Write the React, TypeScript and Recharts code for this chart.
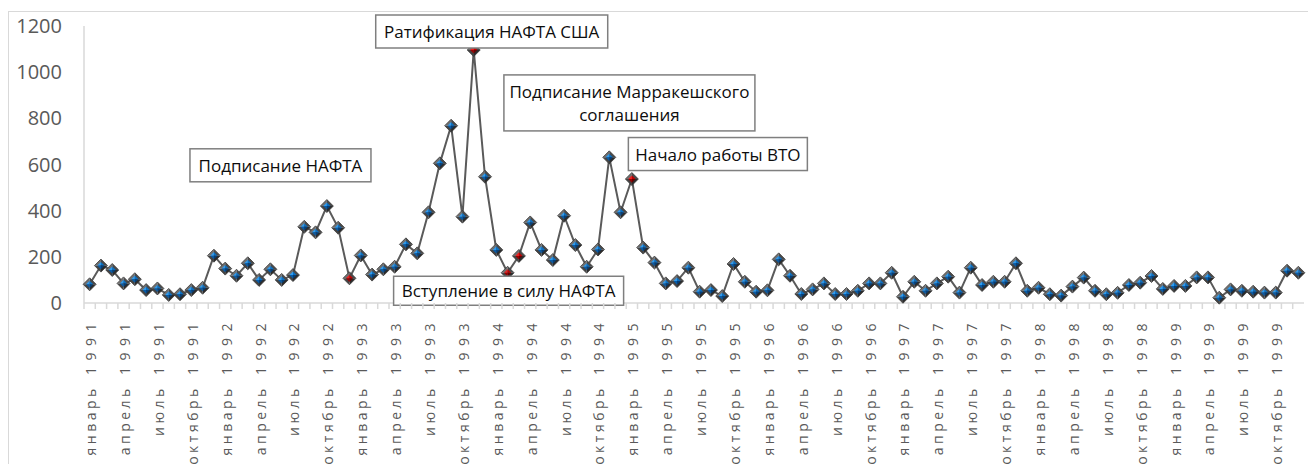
import React from 'react';
import { LineChart, Line, XAxis, YAxis, ReferenceDot } from 'recharts';

const MONTHS = ['январь', 'февраль', 'март', 'апрель', 'май', 'июнь', 'июль', 'август', 'сентябрь', 'октябрь', 'ноябрь', 'декабрь'];
const YEARS = [1991, 1992, 1993, 1994, 1995, 1996, 1997, 1998, 1999];
const VALUES = [
  81, 162, 143, 85, 103, 56, 63, 35, 38, 56, 66, 205,
  149, 118, 172, 100, 146, 100, 121, 330, 306, 420, 326, 107,
  206, 123, 146, 157, 254, 215, 393, 605, 768, 374, 1096, 547,
  230, 131, 204, 349, 230, 186, 378, 251, 157, 232, 631, 393,
  537, 240, 175, 85, 95, 153, 49, 56, 30, 169, 92, 49,
  55, 189, 118, 39, 59, 85, 39, 39, 53, 85, 85, 131,
  27, 92, 53, 85, 114, 45, 153, 78, 92, 92, 172, 53,
  66, 38, 32, 71, 110, 53, 38, 44, 78, 88, 117, 61,
  74, 74, 111, 111, 23, 59, 53, 49, 45, 45, 140, 131,
];
const TICK_MONTHS = ['январь', 'апрель', 'июль', 'октябрь'];
const Y_TICKS = [0, 200, 400, 600, 800, 1000, 1200];
const HIGHLIGHTED = ['декабрь 1992', 'ноябрь 1993', 'февраль 1994', 'март 1994', 'январь 1995'];
const ANNOTATION_AT = ['декабрь 1992', 'ноябрь 1993', 'март 1994', 'январь 1995', 'февраль 1994'];
const ANNOTATION_TEXT = [
  ['Подписание НАФТА'],
  ['Ратификация НАФТА США'],
  ['Подписание Марракешского', 'соглашения'],
  ['Начало работы ВТО'],
  ['Вступление в силу НАФТА'],
];

// layout
const ANNOTATION_LAYOUT = [
  { dx: -69, dy: -113, w: 181, h: 33 },
  { dx: 18, dy: -18.5, w: 232, h: 33 },
  { dx: 110.5, dy: -153, w: 251, h: 56 },
  { dx: 86, dy: -25, w: 179, h: 33 },
  { dx: 1, dy: 18, w: 230, h: 29 },
];
const CHART_W = 1298;
const CHART_H = 452;
const Y_AXIS_W = 75;
const MARGIN = { top: 14, right: 3, left: 0, bottom: 0 };
const PLOT_W = CHART_W - Y_AXIS_W - MARGIN.right - MARGIN.left;
const N = MONTHS.length * YEARS.length;
const STEP = PLOT_W / N;

const data = YEARS.flatMap((y, yi) =>
  MONTHS.map((m, mi) => ({ label: `${m} ${y}`, value: VALUES[yi * 12 + mi] }))
);
const valueOf = (label: string) => data.find((d) => d.label === label)!.value;

const XTick = (props: any) => {
  const { x, y, payload } = props;
  const label = String(payload.value);
  const [month, year] = label.split(' ');
  const show = TICK_MONTHS.includes(month);
  return (
    <g>
      <line x1={x - STEP / 2} x2={x - STEP / 2} y1={y} y2={y + 6} stroke="#d9d9d9" strokeWidth={1.5} />
      {show && (
        <text
          transform={`translate(${x + 0.5},${y + 14}) rotate(-90)`}
          textAnchor="end"
          dominantBaseline="central"
          fontSize={14}
          fill="#595959"
        >
          <tspan letterSpacing={3.5}>{month}</tspan>
          <tspan letterSpacing={6.5}>{' ' + year}</tspan>
        </text>
      )}
    </g>
  );
};

const Diamond = (props: any) => {
  const { cx, cy, payload, index } = props;
  if (cx == null || cy == null) return <g key={index} />;
  const red = HIGHLIGHTED.includes(payload.label);
  const s = 6.5;
  const r = 3.6;
  const T = [cx, cy - s], R = [cx + s, cy], B = [cx, cy + s], L = [cx - s, cy];
  const t = [cx, cy - r], rr = [cx + r, cy], b = [cx, cy + r], l = [cx - r, cy];
  const C = [cx, cy];
  const tri = (a: number[], c: number[], fill: string) => (
    <polygon points={`${a[0]},${a[1]} ${c[0]},${c[1]} ${C[0]},${C[1]}`} fill={fill} />
  );
  const inner = red
    ? ['#f02020', '#c00000', '#6a0000', '#9a0000']
    : ['#2f9cf0', '#0a70c4', '#053f78', '#085ca8'];
  return (
    <g key={index}>
      {tri(L, T, '#707070')}
      {tri(T, R, '#4a4a4a')}
      {tri(R, B, '#2c2c2c')}
      {tri(B, L, '#444444')}
      <polygon points={`${T[0]},${T[1]} ${R[0]},${R[1]} ${B[0]},${B[1]} ${L[0]},${L[1]}`} fill="none" stroke="#3a3a3a" strokeWidth={0.8} />
      {tri(l, t, inner[0])}
      {tri(t, rr, inner[1])}
      {tri(rr, b, inner[2])}
      {tri(b, l, inner[3])}
    </g>
  );
};

const AnnotationBox = ({ viewBox, lines, lay }: any) => {
  if (!viewBox) return null;
  const cx = viewBox.x + viewBox.width / 2;
  const cy = viewBox.y + viewBox.height / 2;
  const bx = cx + lay.dx;
  const by = cy + lay.dy;
  const lh = 23;
  return (
    <g>
      <rect x={bx - lay.w / 2} y={by - lay.h / 2} width={lay.w} height={lay.h} fill="#ffffff" stroke="#7f7f7f" strokeWidth={1.5} />
      {lines.map((t: string, k: number) => (
        <text
          key={k}
          x={bx}
          y={by + (k - (lines.length - 1) / 2) * lh}
          textAnchor="middle"
          dominantBaseline="central"
          fontSize={17}
          fill="#0d0d0d"
        >
          {t}
        </text>
      ))}
    </g>
  );
};

export default function App() {
  return (
    <div
      style={{
        position: 'fixed',
        left: 8,
        top: 11,
        width: 1310,
        height: 470,
        border: '1px solid #d9d9d9',
        background: '#fff',
        fontFamily: '"Open Sans", sans-serif',
      }}
    >
      <LineChart width={CHART_W} height={CHART_H} data={data} margin={MARGIN}>
        <XAxis
          dataKey="label"
          interval={0}
          tick={<XTick />}
          tickLine={false}
          tickSize={0}
          tickMargin={0}
          height={CHART_H - MARGIN.top - 277}
          padding={{ left: STEP / 2, right: STEP / 2 }}
          axisLine={{ stroke: '#d9d9d9', strokeWidth: 1.5 }}
        />
        <YAxis
          type="number"
          domain={[0, 1200]}
          ticks={Y_TICKS}
          width={Y_AXIS_W}
          tickLine={false}
          tickSize={0}
          tickMargin={22}
          axisLine={{ stroke: '#d9d9d9', strokeWidth: 1.5 }}
          tick={{ fill: '#595959', fontSize: 20 }}
        />
        <Line
          dataKey="value"
          stroke="#5a5a5a"
          strokeWidth={2}
          dot={Diamond}
          activeDot={false}
          isAnimationActive={false}
        />
        {ANNOTATION_AT.map((at, i) => (
          <ReferenceDot
            key={at}
            x={at}
            y={valueOf(at)}
            r={1}
            fill="none"
            stroke="none"
            ifOverflow="visible"
            label={(p: any) => <AnnotationBox {...p} lines={ANNOTATION_TEXT[i]} lay={ANNOTATION_LAYOUT[i]} />}
          />
        ))}
      </LineChart>
    </div>
  );
}
